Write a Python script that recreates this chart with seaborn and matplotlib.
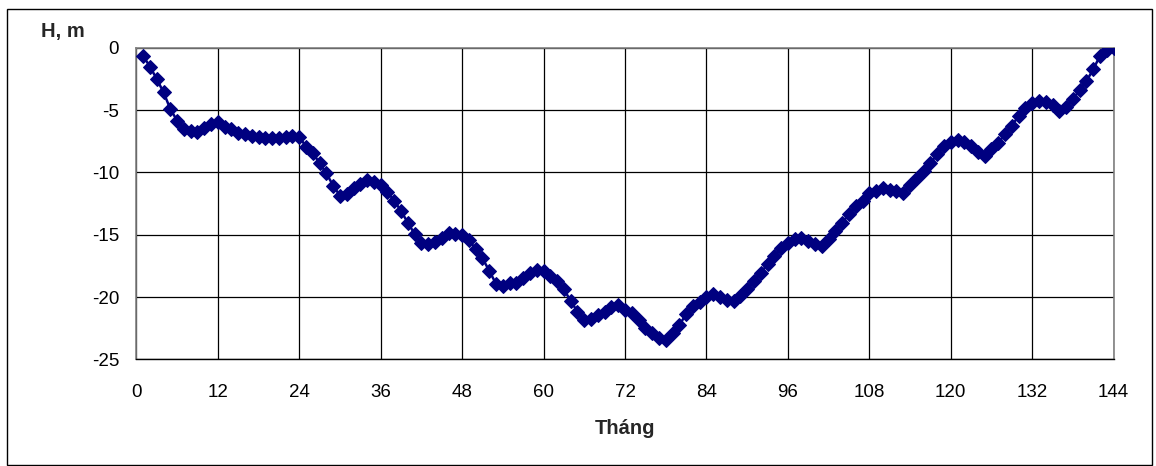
import matplotlib
matplotlib.use("Agg")
import matplotlib.pyplot as plt
import seaborn as sns
import pandas as pd
from matplotlib.patches import Rectangle

months = list(range(1, 145))
depth = [
    -0.67, -1.52, -2.51, -3.58, -4.92, -5.85, -6.5, -6.66, -6.74, -6.47, -6.15, -5.96,
    -6.33, -6.55, -6.82, -6.95, -7.08, -7.16, -7.22, -7.24, -7.22, -7.16, -7.08, -7.14,
    -7.94, -8.42, -9.28, -10.08, -11.07, -11.87, -11.74, -11.28, -10.93, -10.6, -10.75, -11.0,
    -11.6, -12.27, -13.1, -14.04, -14.94, -15.64, -15.75, -15.56, -15.24, -14.89, -14.97, -15.03,
    -15.43, -16.15, -16.9, -17.89, -18.95, -19.11, -18.9, -18.85, -18.45, -18.1, -17.83, -17.89,
    -18.29, -18.71, -19.38, -20.32, -21.17, -21.84, -21.79, -21.44, -21.2, -20.83, -20.64, -21.0,
    -21.31, -21.84, -22.46, -22.91, -23.26, -23.45, -22.91, -22.24, -21.39, -20.72, -20.37, -19.97,
    -19.76, -19.97, -20.24, -20.3, -19.92, -19.38, -18.71, -18.05, -17.38, -16.71, -16.09, -15.64,
    -15.37, -15.24, -15.48, -15.77, -15.88, -15.37, -14.7, -14.04, -13.37, -12.7, -12.27, -11.68,
    -11.47, -11.28, -11.41, -11.49, -11.63, -11.01, -10.43, -9.86, -9.28, -8.53, -7.88, -7.54,
    -7.4, -7.54, -7.86, -8.34, -8.69, -8.15, -7.62, -6.95, -6.26, -5.48, -4.86, -4.46,
    -4.27, -4.33, -4.6, -5.05, -4.73, -4.14, -3.39, -2.67, -1.74, -0.64, -0.18, 0.0,
]
x_ticks = list(range(0, 145, 12))
y_ticks = [0, -5, -10, -15, -20, -25]
x_label = "Tháng"
y_label = "H, m"

sns.set_style("white")
plt.rcParams['font.family'] = ['Liberation Sans', 'DejaVu Sans']

df = pd.DataFrame({"month": months, "H": depth})

fig = plt.figure(figsize=(11.56, 4.66), dpi=100)
ax = fig.add_axes([136.4 / 1156, 1 - 359.4 / 466, 977.2 / 1156, 311.7 / 466])

sns.lineplot(data=df, x="month", y="H", ax=ax, color="#000080", linewidth=1.8,
             marker="D", markersize=6.8, markeredgecolor="#000080", markerfacecolor="#000080",
             zorder=3)

ax.set_xlim(0, 144)
ax.set_ylim(-25, 0)
ax.set_xticks(x_ticks)
ax.set_yticks(y_ticks)
ax.set_xticklabels([str(t) for t in x_ticks])
ax.set_yticklabels([str(t) for t in y_ticks])
ax.grid(True, color="#000000", linewidth=0.9, zorder=0)
ax.set_axisbelow(True)

for side in ["top", "right", "left"]:
    ax.spines[side].set_color("#808080")
    ax.spines[side].set_linewidth(1.2)
ax.spines["bottom"].set_color("#000000")
ax.spines["bottom"].set_linewidth(1.0)

ax.tick_params(axis="x", length=0, pad=18, labelsize=13.5, colors="#000000")
ax.tick_params(axis="y", length=5, width=1.0, direction="out", pad=7.5, labelsize=13.5,
               colors="#000000")

ax.set_xlabel(x_label, fontsize=14.5, fontweight="bold", va="center")
ax.xaxis.set_label_coords(0.5, (359.4 - 428) / 311.7)
ax.set_ylabel(y_label, fontsize=14.5, fontweight="bold", rotation=0, va="center", ha="center")
ax.yaxis.set_label_coords((63 - 136.4) / 977.2, (359.4 - 32) / 311.7)

border = Rectangle((7 / 1156, 1 - 465 / 466), (1152 - 7) / 1156, (465 - 9) / 466,
                   transform=fig.transFigure, fill=False, edgecolor="#000000", linewidth=1.0)
fig.patches.append(border)

fig.savefig("out.png", dpi=100)
